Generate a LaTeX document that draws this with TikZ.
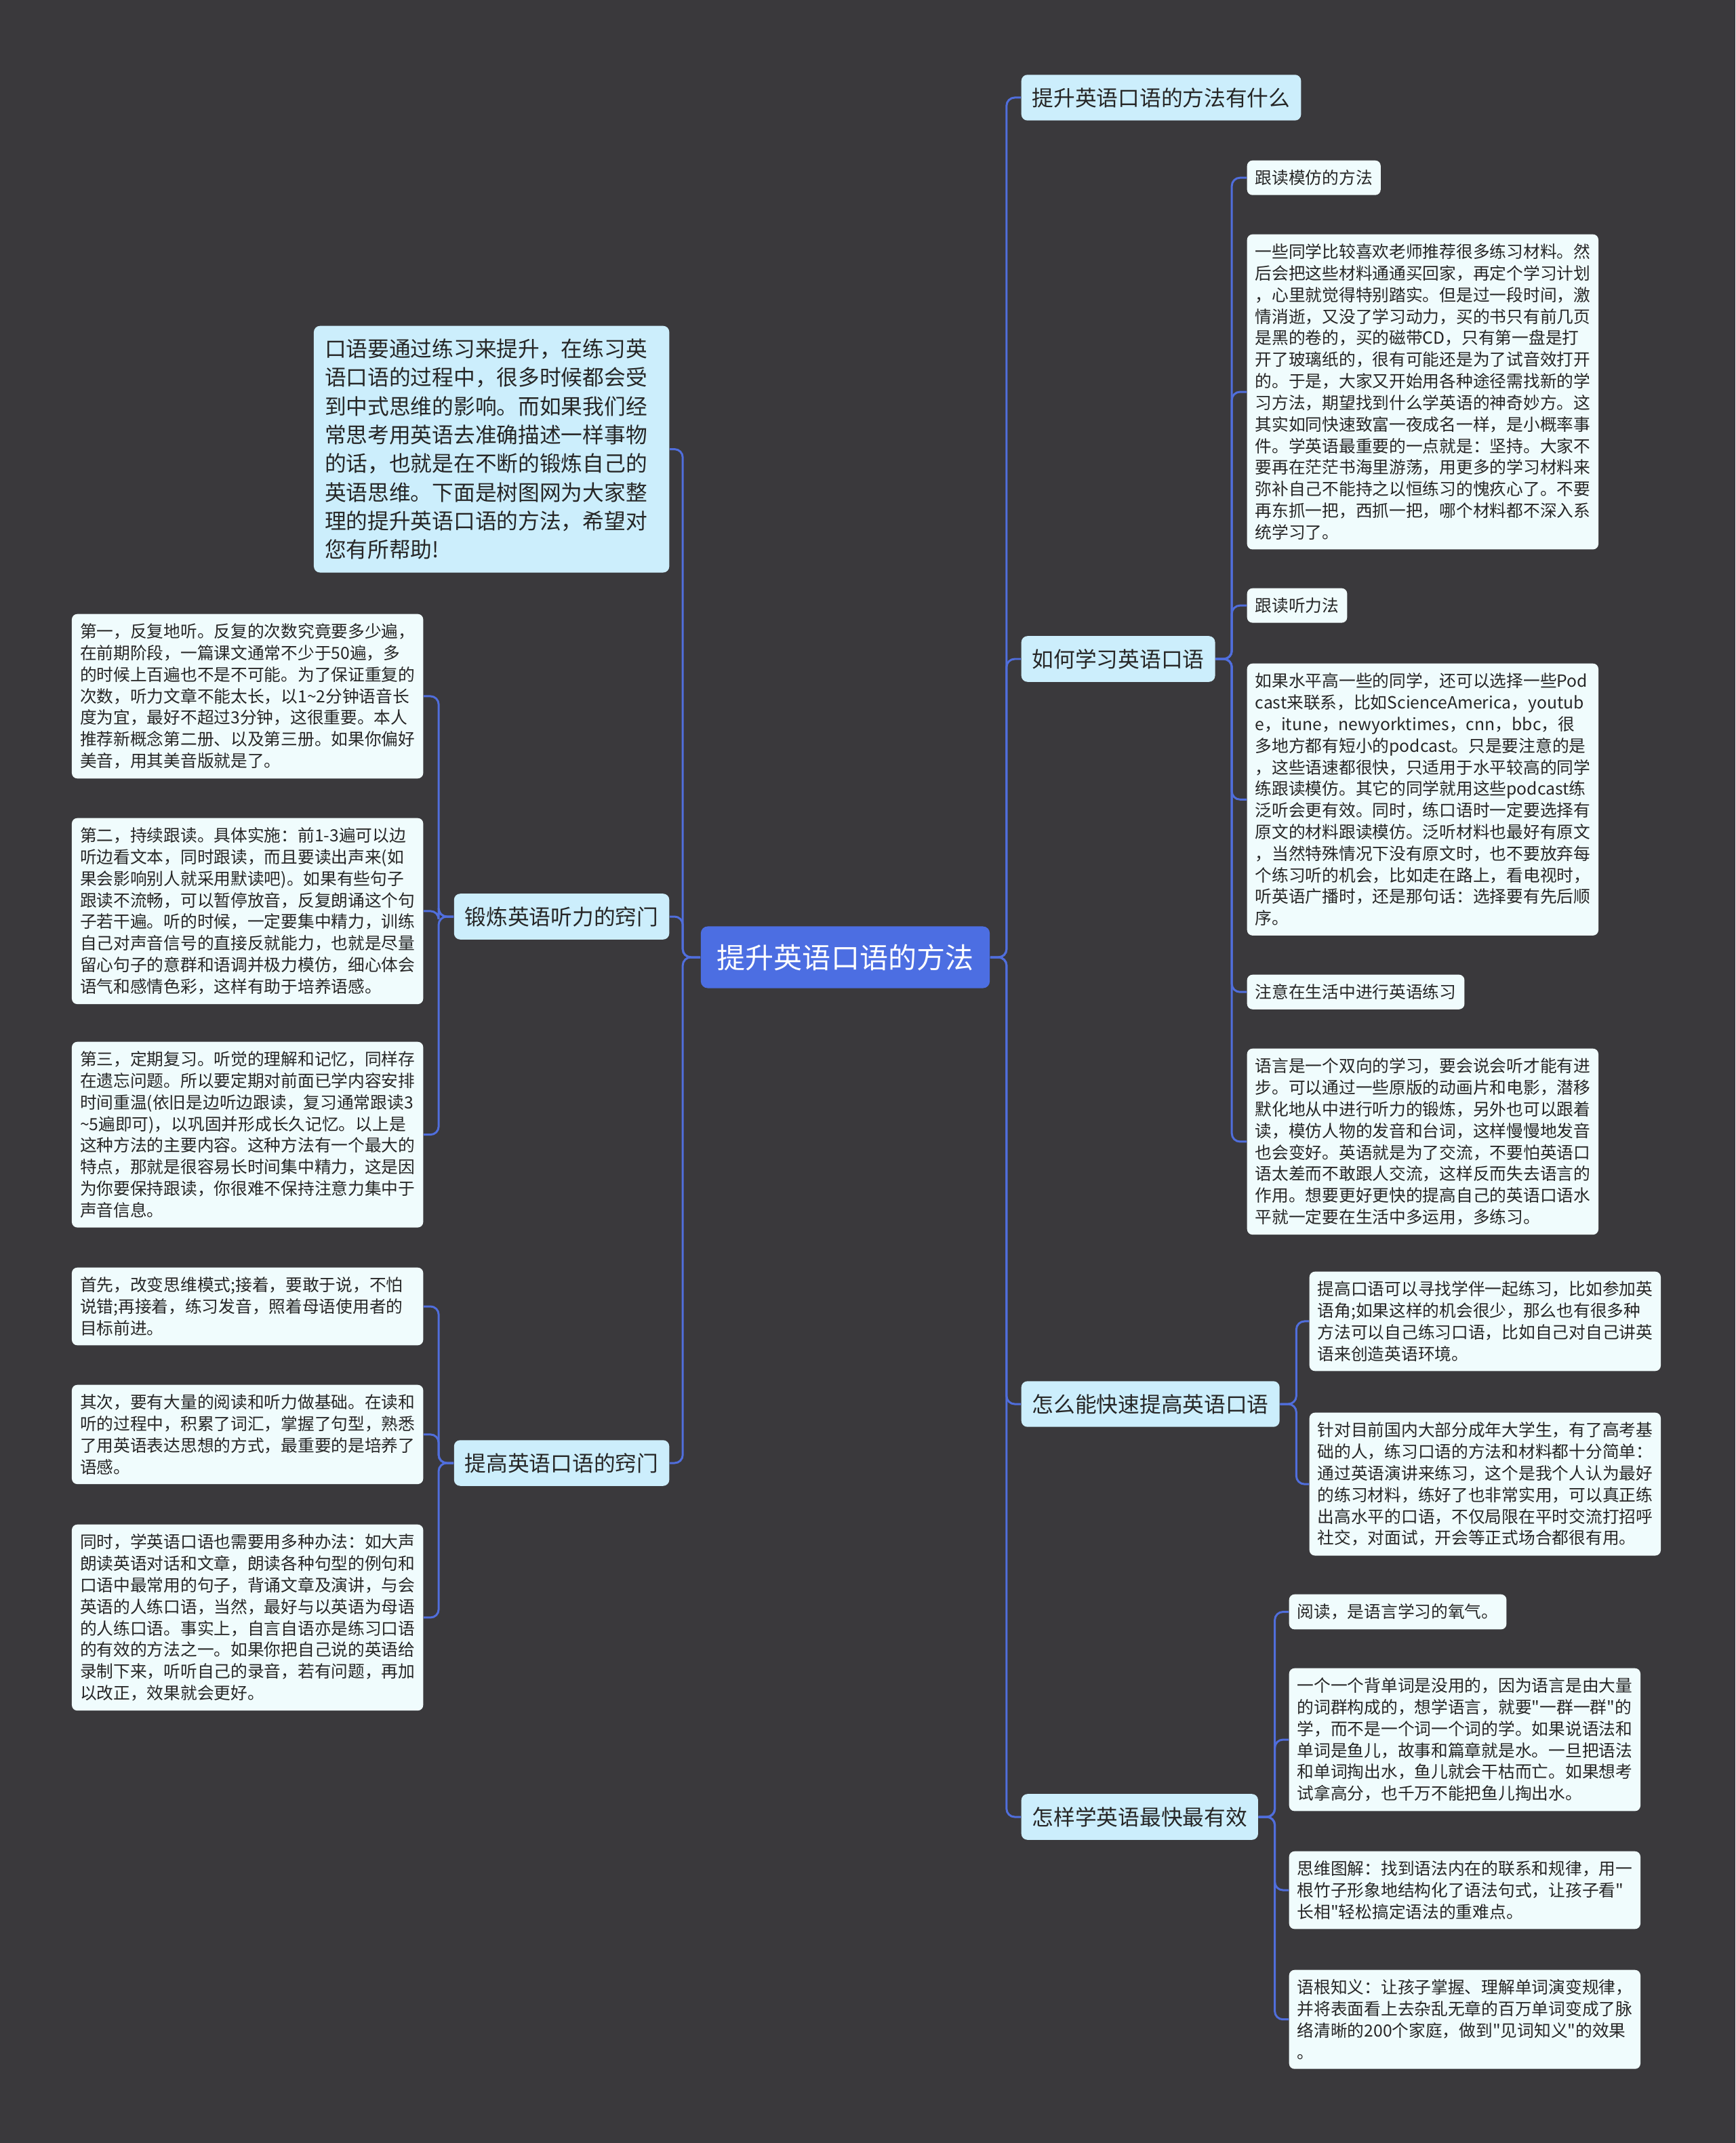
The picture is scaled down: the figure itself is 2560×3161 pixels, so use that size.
\documentclass[tikz,border=0pt]{standalone}
\usepackage{fontspec}
\newfontfamily\zhfont{Noto Sans CJK SC}
\usetikzlibrary{positioning}
\definecolor{BoardGray}{RGB}{58,57,60}
\definecolor{LinkBlue}{RGB}{80,110,220}
\definecolor{RootBlue}{RGB}{76,110,226}
\definecolor{TopicBlue}{RGB}{204,238,252}
\definecolor{LeafWhite}{RGB}{240,252,253}
\definecolor{InkGray}{RGB}{38,38,38}
\tikzset{
  root/.style={fill=RootBlue,text=white,rounded corners=0.1cm,inner xsep=0.24cm,inner ysep=0.26cm,
    font=\zhfont\fontsize{11.95pt}{14pt}\selectfont},
  topic/.style={fill=TopicBlue,text=InkGray,rounded corners=0.09cm,inner xsep=0.16cm,inner ysep=0.19cm,
    font=\zhfont\fontsize{9.02pt}{12.04pt}\selectfont},
  leaf/.style={fill=LeafWhite,text=InkGray,rounded corners=0.08cm,inner xsep=0.12cm,inner ysep=0.14cm,
    font=\zhfont\fontsize{7.03pt}{9.05pt}\selectfont},
  para/.style={leaf,text width=4.94cm,align=left},
  link/.style={draw=LinkBlue,line width=0.85pt,rounded corners=0.12cm},
}

\begin{document}
\begin{tikzpicture}[x=0.01cm,y=-0.01cm]
\fill[BoardGray] (0,0) rectangle (2560,3161);
\useasboundingbox (0,0) rectangle (2560,3161);
% centre
\node[root] (core) at (1247,1412) {提升英语口语的方法};
% right side
\node[topic,anchor=west] (r1) at (1506,144) {提升英语口语的方法有什么};
\node[topic,anchor=west] (r2) at (1506,972) {如何学习英语口语};
\node[topic,anchor=west] (r3) at (1506,2071) {怎么能快速提高英语口语};
\node[topic,anchor=west] (r4) at (1506,2680) {怎样学英语最快最有效};
\node[leaf,anchor=north west] (r2a) at (1839,236) {跟读模仿的方法};
\node[para,anchor=north west] (r2b) at (1839,345) {一些同学比较喜欢老师推荐很多练习材料。然\\后会把这些材料通通买回家，再定个学习计划\\，心里就觉得特别踏实。但是过一段时间，激\\情消逝，又没了学习动力，买的书只有前几页\\是黑的卷的，买的磁带CD，只有第一盘是打\\开了玻璃纸的，很有可能还是为了试音效打开\\的。于是，大家又开始用各种途径需找新的学\\习方法，期望找到什么学英语的神奇妙方。这\\其实如同快速致富一夜成名一样，是小概率事\\件。学英语最重要的一点就是：坚持。大家不\\要再在茫茫书海里游荡，用更多的学习材料来\\弥补自己不能持之以恒练习的愧疚心了。不要\\再东抓一把，西抓一把，哪个材料都不深入系\\统学习了。};
\node[leaf,anchor=north west] (r2c) at (1839,867) {跟读听力法};
\node[para,anchor=north west] (r2d) at (1839,978) {如果水平高一些的同学，还可以选择一些Pod\\cast来联系，比如ScienceAmerica，youtub\\e，itune，newyorktimes，cnn，bbc，很\\多地方都有短小的podcast。只是要注意的是\\，这些语速都很快，只适用于水平较高的同学\\练跟读模仿。其它的同学就用这些podcast练\\泛听会更有效。同时，练口语时一定要选择有\\原文的材料跟读模仿。泛听材料也最好有原文\\，当然特殊情况下没有原文时，也不要放弃每\\个练习听的机会，比如走在路上，看电视时，\\听英语广播时，还是那句话：选择要有先后顺\\序。};
\node[leaf,anchor=north west] (r2e) at (1839,1437) {注意在生活中进行英语练习};
\node[para,anchor=north west] (r2f) at (1839,1546) {语言是一个双向的学习，要会说会听才能有进\\步。可以通过一些原版的动画片和电影，潜移\\默化地从中进行听力的锻炼，另外也可以跟着\\读，模仿人物的发音和台词，这样慢慢地发音\\也会变好。英语就是为了交流，不要怕英语口\\语太差而不敢跟人交流，这样反而失去语言的\\作用。想要更好更快的提高自己的英语口语水\\平就一定要在生活中多运用，多练习。};
\node[para,anchor=north west] (r3a) at (1931,1875) {提高口语可以寻找学伴一起练习，比如参加英\\语角;如果这样的机会很少，那么也有很多种\\方法可以自己练习口语，比如自己对自己讲英\\语来创造英语环境。};
\node[para,anchor=north west] (r3b) at (1931,2083) {针对目前国内大部分成年大学生，有了高考基\\础的人，练习口语的方法和材料都十分简单：\\通过英语演讲来练习，这个是我个人认为最好\\的练习材料，练好了也非常实用，可以真正练\\出高水平的口语，不仅局限在平时交流打招呼\\社交，对面试，开会等正式场合都很有用。};
\node[leaf,anchor=north west] (r4a) at (1901,2351) {阅读，是语言学习的氧气。};
\node[para,anchor=north west] (r4b) at (1901,2460) {一个一个背单词是没用的，因为语言是由大量\\的词群构成的，想学语言，就要"一群一群"的\\学，而不是一个词一个词的学。如果说语法和\\单词是鱼儿，故事和篇章就是水。一旦把语法\\和单词掏出水，鱼儿就会干枯而亡。如果想考\\试拿高分，也千万不能把鱼儿掏出水。};
\node[para,anchor=north west] (r4c) at (1901,2730) {思维图解：找到语法内在的联系和规律，用一\\根竹子形象地结构化了语法句式，让孩子看"\\长相"轻松搞定语法的重难点。};
\node[para,anchor=north west] (r4d) at (1901,2905) {语根知义：让孩子掌握、理解单词演变规律，\\并将表面看上去杂乱无章的百万单词变成了脉\\络清晰的200个家庭，做到"见词知义"的效果\\。};
% left side
\node[topic,anchor=north east,text width=4.92cm,align=left] (l1) at (988,480) {口语要通过练习来提升，在练习英\\语口语的过程中，很多时候都会受\\到中式思维的影响。而如果我们经\\常思考用英语去准确描述一样事物\\的话，也就是在不断的锻炼自己的\\英语思维。下面是树图网为大家整\\理的提升英语口语的方法，希望对\\您有所帮助!};
\node[topic,anchor=east] (l2) at (988,1352) {锻炼英语听力的窍门};
\node[topic,anchor=east] (l3) at (988,2158) {提高英语口语的窍门};
\node[para,anchor=north east] (l2a) at (625,905) {第一，反复地听。反复的次数究竟要多少遍，\\在前期阶段，一篇课文通常不少于50遍，多\\的时候上百遍也不是不可能。为了保证重复的\\次数，听力文章不能太长，以1\textasciitilde 2分钟语音长\\度为宜，最好不超过3分钟，这很重要。本人\\推荐新概念第二册、以及第三册。如果你偏好\\美音，用其美音版就是了。};
\node[para,anchor=north east] (l2b) at (625,1206) {第二，持续跟读。具体实施：前1-3遍可以边\\听边看文本，同时跟读，而且要读出声来(如\\果会影响别人就采用默读吧)。如果有些句子\\跟读不流畅，可以暂停放音，反复朗诵这个句\\子若干遍。听的时候，一定要集中精力，训练\\自己对声音信号的直接反就能力，也就是尽量\\留心句子的意群和语调并极力模仿，细心体会\\语气和感情色彩，这样有助于培养语感。};
\node[para,anchor=north east] (l2c) at (625,1536) {第三，定期复习。听觉的理解和记忆，同样存\\在遗忘问题。所以要定期对前面已学内容安排\\时间重温(依旧是边听边跟读，复习通常跟读3\\\textasciitilde 5遍即可)，以巩固并形成长久记忆。以上是\\这种方法的主要内容。这种方法有一个最大的\\特点，那就是很容易长时间集中精力，这是因\\为你要保持跟读，你很难不保持注意力集中于\\声音信息。};
\node[para,anchor=north east] (l3a) at (625,1869) {首先，改变思维模式;接着，要敢于说，不怕\\说错;再接着，练习发音，照着母语使用者的\\目标前进。};
\node[para,anchor=north east] (l3b) at (625,2042) {其次，要有大量的阅读和听力做基础。在读和\\听的过程中，积累了词汇，掌握了句型，熟悉\\了用英语表达思想的方式，最重要的是培养了\\语感。};
\node[para,anchor=north east] (l3c) at (625,2248) {同时，学英语口语也需要用多种办法：如大声\\朗读英语对话和文章，朗读各种句型的例句和\\口语中最常用的句子，背诵文章及演讲，与会\\英语的人练口语，当然，最好与以英语为母语\\的人练口语。事实上，自言自语亦是练习口语\\的有效的方法之一。如果你把自己说的英语给\\录制下来，听听自己的录音，若有问题，再加\\以改正，效果就会更好。};
% connectors
\foreach \t in {r1,r2,r3,r4} \draw[link] (core.east) -- ++(24,0) |- (\t.west);
\foreach \t in {l1,l2,l3} \draw[link] (core.west) -- ++(-26,0) |- (\t.east);
\foreach \t in {r2a,r2b,r2c,r2d,r2e,r2f} \draw[link] (r2.east) -- ++(24,0) |- (\t.west);
\foreach \t in {r3a,r3b} \draw[link] (r3.east) -- ++(24,0) |- (\t.west);
\foreach \t in {r4a,r4b,r4c,r4d} \draw[link] (r4.east) -- ++(24,0) |- (\t.west);
\foreach \t in {l2a,l2b,l2c} \draw[link] (l2.west) -- ++(-22,0) |- (\t.east);
\foreach \t in {l3a,l3b,l3c} \draw[link] (l3.west) -- ++(-22,0) |- (\t.east);
\end{tikzpicture}
\end{document}
